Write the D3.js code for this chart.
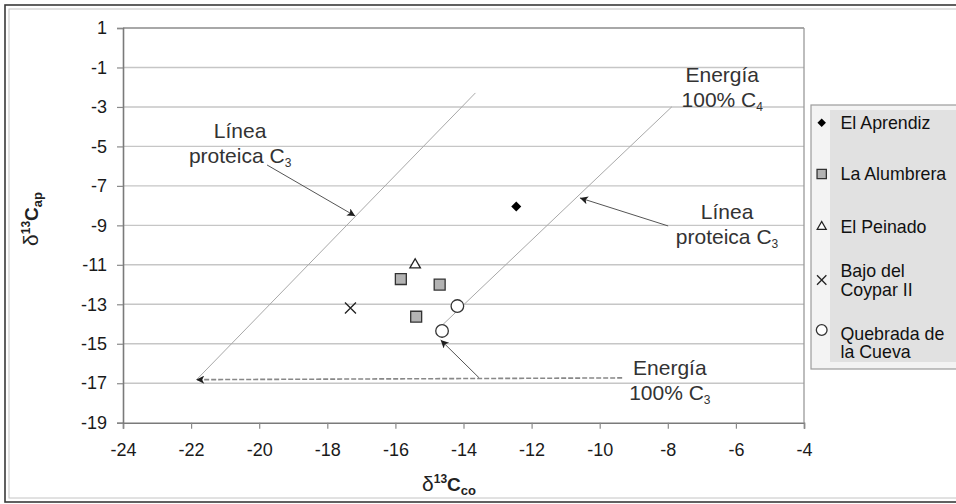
<!DOCTYPE html>
<html>
<head>
<meta charset="utf-8">
<script src="https://cdn.jsdelivr.net/npm/d3@7"></script>
<style>
  body { margin: 0; background: #fff; }
  svg { display: block; font-family: "Liberation Sans", Arial, sans-serif; }
  .grid line { stroke: #c6c6c6; stroke-width: 1.4px; }
  .ref_line { stroke: #a8a8a8; stroke-width: 1px; fill: none; }
  .arrow { stroke: #555; stroke-width: 1px; fill: none; }
  .arrow_dash { stroke: #888; stroke-width: 1.6px; stroke-dasharray: 5,2; fill: none; }
  .note { font-size: 21px; fill: #333; }
  .tick text { font-size: 18px; fill: #1a1a1a; }
  .legend_text { font-size: 17.8px; fill: #111; }
</style>
</head>
<body>
<svg id="chart" width="956" height="504"></svg>
<script>
// axis ticks
var xTicks = [-24, -22, -20, -18, -16, -14, -12, -10, -8, -6, -4];
var yTicks = [1, -1, -3, -5, -7, -9, -11, -13, -15, -17, -19];

// sites (legend order)
var sites = ["El Aprendiz", "La Alumbrera", "El Peinado", "Bajo del Coypar II", "Quebrada de la Cueva"];

// d13C collagen (x) and d13C apatite (y) per site
var aprendizX = [-12.45];
var aprendizY = [-8.05];
var alumbreraX = [-15.84, -14.70, -15.39];
var alumbreraY = [-11.72, -12.00, -13.63];
var peinadoX = [-15.42];
var peinadoY = [-11.00];
var coyparX = [-17.32];
var coyparY = [-13.19];
var quebradaX = [-14.18, -14.63];
var quebradaY = [-13.09, -14.35];

// reference lines: C3 protein line and 100% C4 energy line
var c3LineX = [-21.85, -13.65];
var c3LineY = [-16.84, -2.29];
var c4LineX = [-14.65, -7.88];
var c4LineY = [-14.10, -2.99];

// annotation arrows, start and tip
var arrowsFrom = [[-19.77, -5.94], [-7.99, -9.03], [-13.54, -16.73]];
var arrowsTo = [[-17.18, -8.53], [-10.58, -7.61], [-14.67, -14.81]];
var dashFrom = [-9.34, -16.73];
var dashTo = [-21.85, -16.82];

// annotation texts
var noteLines = [["Línea", "proteica C", "3"], ["Línea", "proteica C", "3"], ["Energía", "100% C", "4"], ["Energía", "100% C", "3"]];
var noteX = [-20.56, -6.26, -6.40, -7.94];
var noteY = [-4.57, -8.68, -1.72, -16.58];

var svg = d3.select("#chart");
var W = 956, H = 504;
var plotLeft = 123, plotRight = 804, plotTop = 28, plotBottom = 422.7;

//outer frame
svg.append("rect").attr("x", 5).attr("y", 5).attr("width", W + 10).attr("height", 497)
  .style("fill", "none").style("stroke", "#3a3a3a").style("stroke-width", 1.6);
svg.append("rect").attr("x", 9).attr("y", 9).attr("width", W + 10).attr("height", 489)
  .style("fill", "none").style("stroke", "#c4c4c4").style("stroke-width", 1);

var x = d3.scaleLinear().domain([-24, -4]).range([plotLeft, plotRight]);
var y = d3.scaleLinear().domain([-19, 1]).range([plotBottom, plotTop]);

// horizontal gridlines
svg.append("g").attr("class", "grid")
  .selectAll("line").data(yTicks.filter(function(d) { return d > -19; }))
  .enter().append("line")
  .attr("x1", plotLeft).attr("x2", plotRight)
  .attr("y1", function(d) { return y(d); })
  .attr("y2", function(d) { return y(d); });

// plot frame top / right
svg.append("line").attr("x1", plotLeft).attr("x2", plotRight).attr("y1", plotTop).attr("y2", plotTop)
  .style("stroke", "#9a9a9a").style("stroke-width", 1.3);
svg.append("line").attr("x1", plotRight).attr("x2", plotRight).attr("y1", plotTop).attr("y2", plotBottom)
  .style("stroke", "#9a9a9a").style("stroke-width", 1.3);

// axes
var xAxis = svg.append("g").attr("transform", "translate(0," + plotBottom + ")")
  .call(d3.axisBottom(x).tickValues(xTicks).tickSize(6).tickPadding(15).tickFormat(d3.format("d")));
var yAxis = svg.append("g").attr("transform", "translate(" + plotLeft + ",0)")
  .call(d3.axisLeft(y).tickValues(yTicks).tickSize(6).tickPadding(10).tickFormat(d3.format("d")));
[xAxis, yAxis].forEach(function(a) {
  a.selectAll(".domain").style("stroke", "#7a7a7a").style("stroke-width", 1.6);
  a.selectAll(".tick line").style("stroke", "#8a8a8a").style("stroke-width", 1.2);
  a.selectAll("text").style("font-family", "Liberation Sans, Arial, sans-serif");
});
// d3 uses the unicode minus; the picture uses a hyphen
svg.selectAll(".tick text").text(function(d) { return String(d); });

// arrowheads
var defs = svg.append("defs");
defs.append("marker").attr("id", "head").attr("viewBox", "0 0 10 10")
  .attr("refX", 10).attr("refY", 5).attr("markerWidth", 11).attr("markerHeight", 8)
  .attr("markerUnits", "userSpaceOnUse").attr("orient", "auto")
  .append("path").attr("d", "M0,0 L10,5 L0,10 L2.5,5 Z").style("fill", "#1e1e1e");

// reference lines
svg.append("line").attr("class", "ref_line")
  .attr("x1", x(c3LineX[0])).attr("y1", y(c3LineY[0]))
  .attr("x2", x(c3LineX[1])).attr("y2", y(c3LineY[1]));
svg.append("line").attr("class", "ref_line")
  .attr("x1", x(c4LineX[0])).attr("y1", y(c4LineY[0]))
  .attr("x2", x(c4LineX[1])).attr("y2", y(c4LineY[1]));

// arrows
svg.selectAll(".arrow").data(arrowsFrom).enter().append("line").attr("class", "arrow")
  .attr("x1", function(d) { return x(d[0]); })
  .attr("y1", function(d) { return y(d[1]); })
  .attr("x2", function(d, i) { return x(arrowsTo[i][0]); })
  .attr("y2", function(d, i) { return y(arrowsTo[i][1]); })
  .attr("marker-end", "url(#head)");
svg.append("line").attr("class", "arrow_dash")
  .attr("x1", x(dashFrom[0])).attr("y1", y(dashFrom[1]))
  .attr("x2", x(dashTo[0])).attr("y2", y(dashTo[1]))
  .attr("marker-end", "url(#head)");

// annotation texts
noteLines.forEach(function(lines, i) {
  var t = svg.append("text").attr("class", "note").attr("text-anchor", "middle")
    .attr("x", x(noteX[i])).attr("y", y(noteY[i]));
  t.append("tspan").attr("x", x(noteX[i])).text(lines[0]);
  t.append("tspan").attr("x", x(noteX[i])).attr("dy", 25).text(lines[1]);
  t.append("tspan").attr("dy", 4).style("font-size", "12px").text(lines[2]);
});

// symbols
function drawSymbol(sel, k, s) {
  if (k === 0) {
    sel.append("path").attr("d", d3.symbol().type(d3.symbolSquare).size(50 * s * s)())
      .attr("transform", "rotate(45)").style("fill", "#000");
  } else if (k === 1) {
    sel.append("path").attr("d", d3.symbol().type(d3.symbolSquare).size(120 * s * s)())
      .style("fill", "#b3b3b3").style("stroke", "#333").style("stroke-width", 1.3);
  } else if (k === 2) {
    sel.append("path").attr("d", d3.symbol().type(d3.symbolTriangle).size(48 * s * s)())
      .style("fill", "#fff").style("stroke", "#222").style("stroke-width", 1.3);
  } else if (k === 3) {
    var r = 5.5 * s;
    sel.append("path").attr("d", "M" + (-r) + "," + (-r) + "L" + r + "," + r + "M" + (-r) + "," + r + "L" + r + "," + (-r))
      .style("stroke", "#222").style("stroke-width", 1.3);
  } else {
    sel.append("circle").attr("r", 6.3 * s)
      .style("fill", "#fff").style("stroke", "#333").style("stroke-width", 1.3);
  }
}

var seriesX = [aprendizX, alumbreraX, peinadoX, coyparX, quebradaX];
var seriesY = [aprendizY, alumbreraY, peinadoY, coyparY, quebradaY];
seriesX.forEach(function(xs, k) {
  xs.forEach(function(v, j) {
    var g = svg.append("g").attr("transform", "translate(" + x(v) + "," + y(seriesY[k][j]) + ")");
    drawSymbol(g, k, 1);
  });
});

// axis titles
var yt = svg.append("text").attr("transform", "translate(38,219) rotate(-90)")
  .attr("text-anchor", "middle").style("fill", "#222");
yt.append("tspan").style("font-size", "21px").text("δ");
yt.append("tspan").attr("dy", -8).style("font-size", "12px").style("font-weight", "bold").text("13");
yt.append("tspan").attr("dy", 8).style("font-size", "19px").style("font-weight", "bold").text("C");
yt.append("tspan").attr("dy", 4).style("font-size", "13px").style("font-weight", "bold").text("ap");

var xt = svg.append("text").attr("x", 449).attr("y", 491)
  .attr("text-anchor", "middle").style("fill", "#222");
xt.append("tspan").style("font-size", "21px").text("δ");
xt.append("tspan").attr("dy", -8).style("font-size", "12px").style("font-weight", "bold").text("13");
xt.append("tspan").attr("dy", 8).style("font-size", "19px").style("font-weight", "bold").text("C");
xt.append("tspan").attr("dy", 4).style("font-size", "13px").style("font-weight", "bold").text("co");

// legend
var lg = svg.append("g");
lg.append("rect").attr("x", 811).attr("y", 105).attr("width", 160).attr("height", 264)
  .style("fill", "#f3f3f3").style("stroke", "#9c9c9c").style("stroke-width", 1.2);
lg.append("rect").attr("x", 830).attr("y", 110).attr("width", 140).attr("height", 252)
  .style("fill", "#e1e1e1");
var legendMarkY = [122.7, 174, 226.7, 280, 330];
var legendTextY = [[122.7], [174], [226.7], [270.7, 289.2], [333.3, 351.7]];
var legendText = [["El Aprendiz"], ["La Alumbrera"], ["El Peinado"], ["Bajo del", "Coypar II"], ["Quebrada de", "la Cueva"]];
sites.forEach(function(s, k) {
  var g = lg.append("g").attr("transform", "translate(821.7," + legendMarkY[k] + ")");
  drawSymbol(g, k, 0.85);
  legendText[k].forEach(function(t, j) {
    lg.append("text").attr("class", "legend_text").attr("x", 840.5)
      .attr("y", legendTextY[k][j]).attr("dy", "0.36em").text(t);
  });
});
</script>
</body>
</html>
